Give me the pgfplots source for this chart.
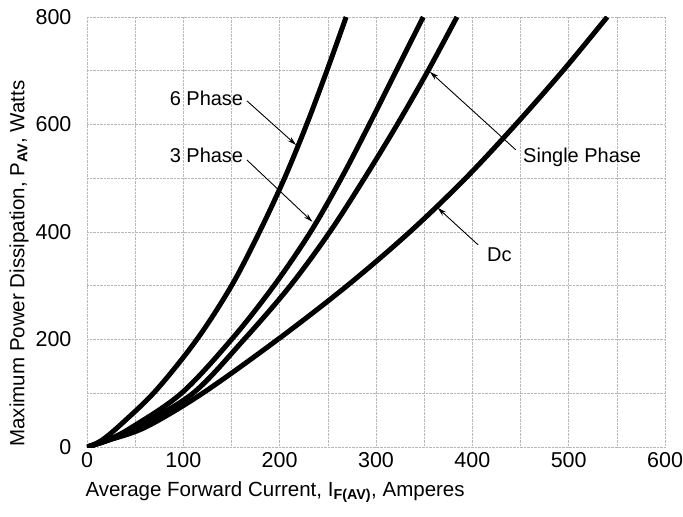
\documentclass[border=0pt]{standalone}
\usepackage{pgfplots}
\pgfplotsset{compat=1.18}
\usepackage{fontspec}
\setmainfont{Liberation Sans}
\usetikzlibrary{arrows.meta}

\begin{document}
\begin{tikzpicture}
\begin{axis}[
    scale only axis,
    width=578pt, height=430pt,
    xmin=0, xmax=600, ymin=0, ymax=800,
    xtick={0,100,...,600}, ytick={0,200,...,800},
    minor x tick num=1, minor y tick num=1,
    grid=both,
    major grid style={densely dotted, black!28, line width=0.6pt},
    minor grid style={densely dotted, black!28, line width=0.6pt},
    axis line style={draw=none},
    major tick length=0pt, minor tick length=0pt,
    /pgf/number format/assume math mode=true,
    ticklabel style={font=\fontsize{21.5}{25}\selectfont},
    yticklabel style={xshift=-12pt},
    xticklabel style={yshift=-2pt},
    label style={font=\fontsize{20.5}{24}\selectfont},
    xlabel={Average Forward Current, I\textsubscript{\textbf{F(AV)}}, Amperes},
    ylabel={Maximum Power Dissipation, P\textsubscript{\textbf{AV}}, Watts},
    xlabel style={at={(axis description cs:0,0)}, anchor=north west, yshift=-31pt, xshift=-5pt},
    ylabel style={at={(axis description cs:-0.1176,-0.007)}, anchor=west},
    cycle list={{black, mark=none}},
    every axis plot/.append style={line width=5pt, smooth, tension=0.55},
]
% 6 Phase
\addplot coordinates {
    (0,0) (15,12) (37,45) (72,106) (114,200) (150,300) (179,400)
    (205,500) (228,600) (249,700) (269,800)
};
% 3 Phase
\addplot coordinates {
    (0,0) (20,12) (45,35) (98,100) (150,200) (194,300) (232,400)
    (264,500) (293,600) (321,700) (349,800)
};
% Single Phase
\addplot coordinates {
    (0,0) (22,13) (52,38) (110,100) (163,200) (211,300) (252,400)
    (288,500) (322,600) (354,700) (384,800)
};
% Dc
\addplot coordinates {
    (0,0) (25,14) (62,38) (120,100) (198,200) (270,300) (335,400)
    (393,500) (445,600) (494,700) (540,800)
};

\begin{scope}[font=\fontsize{20}{24}\selectfont]
\node at (axis cs:124,649) {6 Phase};
\draw[line width=0.9pt, -{Stealth[length=9pt,width=5pt]}] (axis cs:166,644) -- (axis cs:217,562);
\node at (axis cs:124,543) {3 Phase};
\draw[line width=0.9pt, -{Stealth[length=9pt,width=5pt]}] (axis cs:166,534) -- (axis cs:234,419);
\node at (axis cs:514,538) {Single Phase};
\draw[line width=0.9pt, -{Stealth[length=9pt,width=5pt]}] (axis cs:445,553) -- (axis cs:356,698);
\node at (axis cs:428,357) {Dc};
\draw[line width=0.9pt, -{Stealth[length=9pt,width=5pt]}] (axis cs:406,376) -- (axis cs:364,445);
\end{scope}

\coordinate (bbsw) at (axis description cs:-0.1505,-0.1605);
\coordinate (bbne) at (axis description cs:1.0311,1.0395);
\end{axis}
\pgfresetboundingbox
\path[use as bounding box] (bbsw) rectangle (bbne);
\end{tikzpicture}
\end{document}
